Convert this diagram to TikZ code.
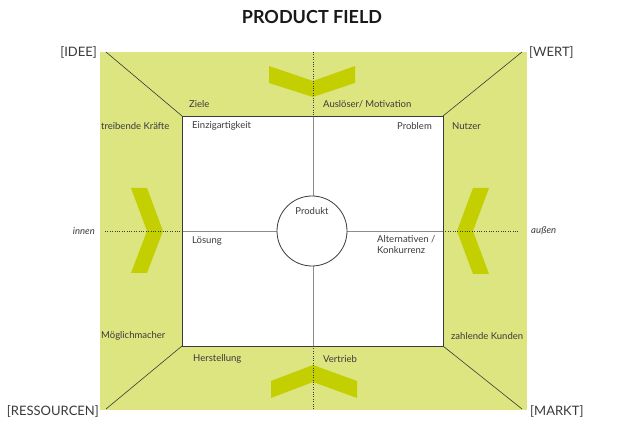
\documentclass[tikz,border=0pt]{standalone}
\usepackage{fontspec}
\setmainfont{Lato}
\definecolor{fieldgreen}{HTML}{DDE581}
\definecolor{chevgreen}{HTML}{C3CF00}
\definecolor{inkgray}{HTML}{3A3A3A}
\tikzset{
  lbl/.style={font=\fontsize{9.5}{11}\selectfont, text=inkgray, inner sep=0pt, align=left},
  cornerlbl/.style={font=\fontsize{13}{15}\selectfont, text=inkgray, inner sep=0pt},
  sidelbl/.style={font=\fontsize{9.5}{11}\selectfont\itshape, text=inkgray, inner sep=0pt},
  chevron/.style={fill=chevgreen, draw=none},
  axis/.style={draw=black!45, line width=0.8pt},
  guide/.style={draw=inkgray, line width=0.4pt, dotted},
  diag/.style={draw=inkgray, line width=0.6pt}
}
\begin{document}
\begin{tikzpicture}[x=1pt, y=-1pt]
            \useasboundingbox (0,0) rectangle (635,427);
            \coordinate (gNW) at (100,52);
            \coordinate (gSE) at (527,410);
            \coordinate (iNW) at (182,116);
            \coordinate (iNE) at (443,116);
            \coordinate (iSW) at (182,346);
            \coordinate (iSE) at (443,346);
            \coordinate (dNW) at (106,52);
            \coordinate (dNE) at (522,52);
            \coordinate (dSW) at (106,409);
            \coordinate (dSE) at (522,409);
            \coordinate (vTop) at (313,52);
            \coordinate (vUp) at (313,116);
            \coordinate (vDown) at (313,346);
            \coordinate (vBot) at (313,410);
            \coordinate (hLeft) at (105,231);
            \coordinate (hIn) at (182,231);
            \coordinate (hOut) at (443,231);
            \coordinate (hRight) at (519,231);

            \fill[fieldgreen] (gNW) rectangle (gSE);

            \fill[chevron] (269,66) -- (313,81) -- (355,66) -- (355,83) -- (313,97) -- (269,83) -- cycle;
            \fill[chevron] (271,398) -- (271,381) -- (313,365) -- (357,381) -- (357,398) -- (313,382) -- cycle;
            \fill[chevron] (131,188) -- (147,188) -- (163,231) -- (147,273) -- (131,273) -- (147,231) -- cycle;
            \fill[chevron] (489,188) -- (473,188) -- (457,231) -- (473,274) -- (489,274) -- (473,231) -- cycle;

            \fill[white] (iNW) rectangle (iSE);
            \draw[axis] (vUp) -- (vDown);
            \draw[axis] (hIn) -- (hOut);
            \node[circle, draw=inkgray, fill=white, line width=0.8pt, minimum size=70pt, inner sep=0pt] (prod) at (312,231) {};
            \node[lbl, anchor=center] (prodlbl) at (312,211) {Produkt};
            \draw[draw=inkgray, line width=0.9pt] (iNW) rectangle (iSE);

            \draw[diag] (dNW) -- (iNW);
            \draw[diag] (dNE) -- (iNE);
            \draw[diag] (dSW) -- (iSW);
            \draw[diag] (dSE) -- (iSE);

            \draw[guide] (vTop) -- (vUp);
            \draw[guide] (vDown) -- (vBot);
            \draw[guide] (hLeft) -- (hIn);
            \draw[guide] (hOut) -- (hRight);

            \node[font=\fontsize{18}{21}\selectfont\bfseries, text=black!90] (title) at (312,17) {PRODUCT FIELD};
            \node[cornerlbl, anchor=east] (idee) at (97,52) {[IDEE]};
            \node[cornerlbl, anchor=west] (wert) at (529,52) {[WERT]};
            \node[cornerlbl, anchor=east] (ress) at (99,411) {[RESSOURCEN]};
            \node[cornerlbl, anchor=west] (markt) at (530,411) {[MARKT]};

            \node[lbl, anchor=west] (ziele) at (189,104) {Ziele};
            \node[lbl, anchor=west] (ausl) at (323,104) {Auslöser/ Motivation};
            \node[lbl, anchor=west] (treib) at (101,126) {treibende Kräfte};
            \node[lbl, anchor=west] (einz) at (192,126) {Einzigartigkeit};
            \node[lbl, anchor=east] (probl) at (432,126) {Problem};
            \node[lbl, anchor=west] (nutz) at (452,126) {Nutzer};
            \node[sidelbl, anchor=east] (innen) at (95,231) {innen};
            \node[sidelbl, anchor=west] (aussen) at (531,231) {außen};
            \node[lbl, anchor=west] (loes) at (192,241) {Lösung};
            \node[lbl, anchor=north west] (alt) at (377,235) {Alternativen /\\Konkurrenz};
            \node[lbl, anchor=west] (moegl) at (101,336) {Möglichmacher};
            \node[lbl, anchor=west] (kund) at (451,336) {zahlende Kunden};
            \node[lbl, anchor=west] (herst) at (193,359) {Herstellung};
            \node[lbl, anchor=west] (vertr) at (323,359) {Vertrieb};
\end{tikzpicture}
\end{document}
